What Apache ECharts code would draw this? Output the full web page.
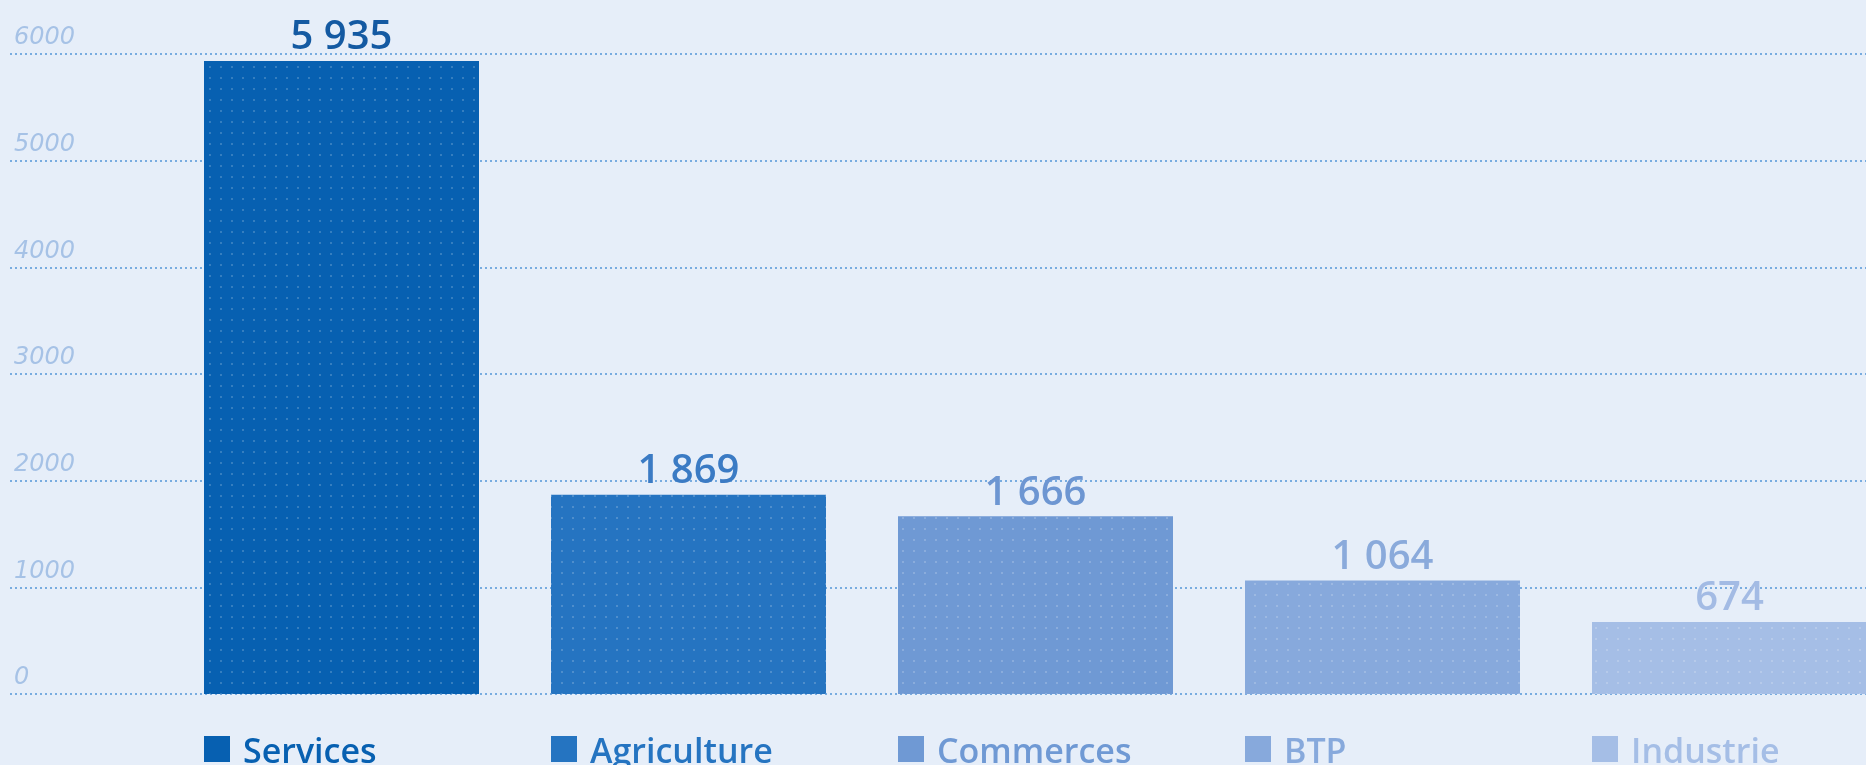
<!DOCTYPE html>
<html>
<head>
<meta charset="utf-8">
<script src="https://cdn.jsdelivr.net/npm/echarts@6/dist/echarts.min.js"></script>
<style>
html,body{margin:0;padding:0;background:#e6eef9;}
#c{width:1866px;height:765px;}
</style>
</head>
<body>
<div id="c"></div>
<script>
const categories = ['Services', 'Agriculture', 'Commerces', 'BTP', 'Industrie'];
const values = [5935, 1869, 1666, 1064, 674];
const yTicks = [0, 1000, 2000, 3000, 4000, 5000, 6000];
const barColors = ['#0760b1', '#2574c1', '#6f99d4', '#87a9dc', '#a5bee6'];
const labelColors = ['#145aa2', '#3b7bc4', '#6d96d2', '#8aaadb', '#a3bbe4'];

const fmt = v => String(v).replace(/\B(?=(\d{3})+(?!\d))/g, ' ');

// category slots: bar i sits at slot i; the last slot runs past the right edge
const slotPx = 347, gridLeft = 168, chartW = 1866;
const xMin = -0.5, xMax = xMin + (chartW - gridLeft) / slotPx;

const rich = {};
categories.forEach((c, i) => {
  rich['sq' + i] = { width: 26, height: 26, backgroundColor: barColors[i], verticalAlign: 'top' };
  rich['t' + i] = { color: barColors[i], fontSize: 34, fontWeight: 600, fontFamily: 'Open Sans', padding: [0, 0, 0, 13], lineHeight: 34, verticalAlign: 'top' };
});

const decal = {
  symbol: 'circle',
  symbolSize: 1,
  color: 'rgba(255,255,255,0.25)',
  dashArrayX: [2, 9],
  dashArrayY: [2, 9]
};

const chart = echarts.init(document.getElementById('c'), null, { renderer: 'canvas' });
chart.setOption({
  backgroundColor: '#e6eef9',
  animation: false,
  grid: [
    { left: 10, right: 0, top: 54, bottom: 71 },
    { left: gridLeft, right: 0, top: 54, bottom: 71 }
  ],
  xAxis: [
    { gridIndex: 0, type: 'value', min: 0, max: 1, show: false },
    { gridIndex: 1, type: 'value', min: xMin, max: xMax, show: false }
  ],
  yAxis: [
    {
      gridIndex: 0, type: 'value', min: yTicks[0], max: yTicks[yTicks.length - 1], interval: 1000,
      axisLine: { show: false }, axisTick: { show: false },
      axisLabel: {
        inside: true, margin: 4, verticalAlign: 'bottom', fontStyle: 'italic',
        fontFamily: 'DejaVu Sans', fontSize: 24, color: '#a6c2e6', padding: [0, 0, 4, 0],
        formatter: v => String(v)
      },
      splitLine: { show: true, lineStyle: { color: '#78ace0', width: 2, type: [2, 3] } }
    },
    { gridIndex: 1, type: 'value', min: 0, max: 6000, show: false }
  ],
  series: [
    {
      type: 'bar', xAxisIndex: 1, yAxisIndex: 1, barWidth: 275,
      data: values.map((v, i) => ({
        name: categories[i],
        value: [i, v],
        itemStyle: { color: barColors[i], decal: decal },
        label: { color: labelColors[i] }
      })),
      label: {
        show: true, position: 'top', distance: 3,
        fontFamily: 'Open Sans', fontSize: 40, fontWeight: 600,
        formatter: p => fmt(p.value[1])
      }
    },
    {
      type: 'bar', xAxisIndex: 1, yAxisIndex: 1, barWidth: 275, barGap: '-100%',
      silent: true,
      itemStyle: { color: 'rgba(0,0,0,0)' },
      data: values.map((v, i) => ({ name: categories[i], value: [i, v] })),
      label: {
        show: true, position: 'insideBottomLeft', distance: 0,
        verticalAlign: 'top', offset: [0, 42],
        formatter: p => '{sq' + p.dataIndex + '|}{t' + p.dataIndex + '|' + categories[p.dataIndex] + '}',
        rich: rich
      }
    }
  ]
});
</script>
</body>
</html>
